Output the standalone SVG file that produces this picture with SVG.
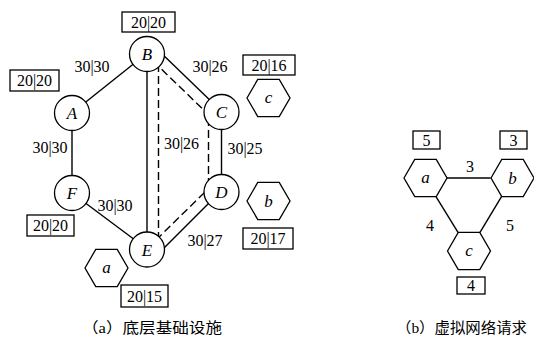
<svg xmlns="http://www.w3.org/2000/svg" width="534" height="342" viewBox="0 0 534 342">
<style>
.ln{stroke:#000;stroke-width:1.4;fill:none}
.ds{stroke:#000;stroke-width:1.4;fill:none;stroke-dasharray:8 4}
.nd{fill:#fff;stroke:#000;stroke-width:1.3}
.bx{fill:#fff;stroke:#000;stroke-width:1.3}
.num{font-family:"Liberation Serif","DejaVu Serif",serif;font-size:16px;text-anchor:middle;fill:#000}
.lt{font-family:"Liberation Serif","DejaVu Serif",serif;font-size:17px;font-style:italic;text-anchor:middle;fill:#000}
.cap{font-family:"Liberation Serif","Noto Sans CJK SC",serif;font-size:15px;fill:#000}
</style>
<rect width="534" height="342" fill="#fff"/>
<g id="connectors">
  <line class="ln" x1="146" y1="54" x2="72" y2="113"/>
  <line class="ln" x1="72" y1="113" x2="72" y2="193"/>
  <line class="ln" x1="72" y1="193" x2="147" y2="249"/>
  <line class="ln" x1="158" y1="50" x2="216" y2="106"/>
  <line class="ds" x1="153" y1="61" x2="210" y2="116"/>
  <line class="ln" x1="147" y1="54" x2="147" y2="249"/>
  <line class="ds" x1="158.5" y1="64" x2="158.5" y2="236"/>
  <line class="ln" x1="221.5" y1="112" x2="221.5" y2="192"/>
  <line class="ds" x1="208.5" y1="118" x2="208.5" y2="186"/>
  <line class="ln" x1="158" y1="254" x2="214" y2="198"/>
  <line class="ds" x1="156" y1="240" x2="209" y2="188"/>
  <line class="ln" x1="446.5" y1="178" x2="490.5" y2="178"/>
  <line class="ln" x1="436" y1="196.6" x2="458" y2="232.4"/>
  <line class="ln" x1="501.5" y1="196.6" x2="480" y2="232.4"/>
</g>
<g id="nodeB"><circle class="nd" cx="147" cy="54" r="17.5"/><text class="lt" x="147" y="60">B</text></g>
<g id="nodeA"><circle class="nd" cx="72" cy="113" r="17.5"/><text class="lt" x="72" y="119">A</text></g>
<g id="nodeC"><circle class="nd" cx="221.5" cy="112" r="17.5"/><text class="lt" x="221.5" y="118">C</text></g>
<g id="nodeF"><circle class="nd" cx="72" cy="193" r="17.5"/><text class="lt" x="72" y="199">F</text></g>
<g id="nodeD"><circle class="nd" cx="221.5" cy="192" r="17.5"/><text class="lt" x="221.5" y="198">D</text></g>
<g id="nodeE"><circle class="nd" cx="147" cy="249.5" r="17.5"/><text class="lt" x="147" y="255.5">E</text></g>
<g id="hexc1"><polygon class="nd" points="247,98 257.75,79.4 279.25,79.4 290,98 279.25,116.6 257.75,116.6"/><text class="lt" x="268.5" y="103">c</text></g>
<g id="hexb1"><polygon class="nd" points="247,201 257.75,182.4 279.25,182.4 290,201 279.25,219.6 257.75,219.6"/><text class="lt" x="268.5" y="207">b</text></g>
<g id="hexa1"><polygon class="nd" points="85,268 95.75,249.4 117.25,249.4 128,268 117.25,286.6 95.75,286.6"/><text class="lt" x="106.5" y="273">a</text></g>
<g id="hexa2"><polygon class="nd" points="404,178 414.75,159.4 436.25,159.4 447,178 436.25,196.6 414.75,196.6"/><text class="lt" x="425.5" y="183">a</text></g>
<g id="hexb2"><polygon class="nd" points="491,178 501.75,159.4 523.25,159.4 534,178 523.25,196.6 501.75,196.6"/><text class="lt" x="512.5" y="184">b</text></g>
<g id="hexc2"><polygon class="nd" points="447.5,251 458.25,232.4 479.75,232.4 490.5,251 479.75,269.6 458.25,269.6"/><text class="lt" x="469" y="256">c</text></g>
<g id="boxes">
  <rect class="bx" x="122" y="12" width="53" height="20"/><text class="num" x="148.5" y="28">20|20</text>
  <rect class="bx" x="10" y="70" width="49" height="21"/><text class="num" x="34.5" y="86">20|20</text>
  <rect class="bx" x="243" y="55" width="52" height="20"/><text class="num" x="269" y="71">20|16</text>
  <rect class="bx" x="27" y="215" width="47" height="21"/><text class="num" x="50.5" y="231">20|20</text>
  <rect class="bx" x="243" y="228" width="50" height="21"/><text class="num" x="268" y="244">20|17</text>
  <rect class="bx" x="121" y="285" width="47" height="22"/><text class="num" x="144.5" y="301.5">20|15</text>
  <rect class="bx" x="413" y="131" width="27" height="18"/><text class="num" x="426.5" y="146">5</text>
  <rect class="bx" x="500" y="131" width="27" height="18"/><text class="num" x="513.5" y="146">3</text>
  <rect class="bx" x="457" y="277" width="28" height="17"/><text class="num" x="471" y="291">4</text>
</g>
<g id="edge-labels">
  <text class="num" x="92" y="72">30|30</text>
  <text class="num" x="210" y="72">30|26</text>
  <text class="num" x="50" y="153">30|30</text>
  <text class="num" x="181.5" y="149">30|26</text>
  <text class="num" x="245" y="154">30|25</text>
  <text class="num" x="115" y="211">30|30</text>
  <text class="num" x="205" y="246">30|27</text>
  <text class="num" x="470" y="172">3</text>
  <text class="num" x="430" y="231">4</text>
  <text class="num" x="510" y="231">5</text>
</g>
<text class="cap" x="82" y="333" textLength="140" lengthAdjust="spacingAndGlyphs">（a）底层基础设施</text>
<text class="cap" x="396" y="333" textLength="131" lengthAdjust="spacingAndGlyphs">（b）虚拟网络请求</text>
</svg>
